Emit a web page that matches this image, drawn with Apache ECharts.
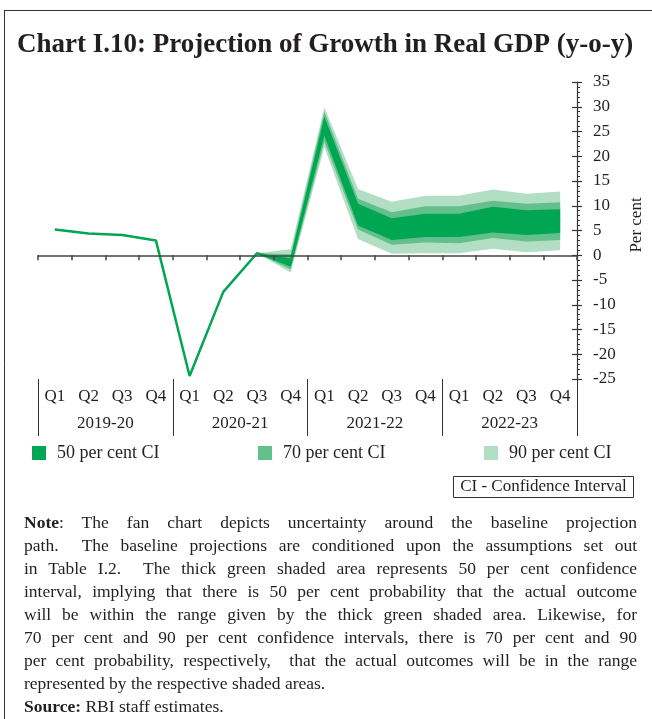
<!DOCTYPE html>
<html>
<head>
<meta charset="utf-8">
<script src="https://cdn.jsdelivr.net/npm/echarts@6/dist/echarts.min.js"></script>
<style>
  html, body { margin: 0; padding: 0; background: #fff; }
  #wrap { position: relative; width: 652px; height: 719px; overflow: hidden; }
  #chart { position: absolute; left: 0; top: 0; width: 652px; height: 719px; }
  #note {
    position: absolute; left: 24px; top: 511px; width: 613px;
    font-family: "Liberation Serif", serif; font-size: 17.5px; line-height: 23px; color: #231f20;
  }
  #note .j { text-align: justify; text-align-last: justify; white-space: nowrap; }
  #note .l { text-align: left; white-space: nowrap; }
</style>
</head>
<body>
<div id="wrap">
  <div id="chart"></div>
  <div id="note">
    <div class="j"><b>Note</b>: The fan chart depicts uncertainty around the baseline projection</div>
    <div class="j">path. &nbsp;The baseline projections are conditioned upon the assumptions set out</div>
    <div class="j">in Table I.2. &nbsp;The thick green shaded area represents 50 per cent confidence</div>
    <div class="j">interval, implying that there is 50 per cent probability that the actual outcome</div>
    <div class="j">will be within the range given by the thick green shaded area. Likewise, for</div>
    <div class="j">70 per cent and 90 per cent confidence intervals, there is 70 per cent and 90</div>
    <div class="j">per cent probability, respectively, &nbsp;that the actual outcomes will be in the range</div>
    <div class="l">represented by the respective shaded areas.</div>
    <div class="l"><b>Source:</b> RBI staff estimates.</div>
  </div>
</div>
<script>
// Quarters and fiscal years on the category axis
const quarters = ['Q1','Q2','Q3','Q4','Q1','Q2','Q3','Q4','Q1','Q2','Q3','Q4','Q1','Q2','Q3','Q4'];
const fiscalYears = ['2019-20', '2020-21', '2021-22', '2022-23'];

// Real GDP growth (y-o-y, per cent): actuals, then the baseline projection
const gdpGrowth = [5.2, 4.4, 4.1, 3.0, -24.4, -7.4, 0.4, -1.5, 26.2, 8.3, 5.4, 6.2, 6.1, 7.2, 6.6, 6.9];

// Fan bands; null where no band is drawn (the fan opens at Q3 2020-21)
const ci90Low  = [null, null, null, null, null, null, 0.4, -3.5, 21.8, 3.3, 0.3, 0.4, 0.4, 1.3, 0.6, 1.0];
const ci90High = [null, null, null, null, null, null, 0.4,  1.2, 29.9, 13.4, 10.8, 12.0, 12.0, 13.3, 12.4, 12.9];
const ci70Low  = [null, null, null, null, null, null, 0.4, -2.9, 23.0, 5.2, 2.1, 2.6, 2.4, 3.5, 2.8, 3.1];
const ci70High = [null, null, null, null, null, null, 0.4,  0.2, 29.0, 11.4, 8.7, 9.9, 9.9, 11.0, 10.4, 10.7];
const ci50Low  = [null, null, null, null, null, null, 0.4, -2.3, 24.2, 6.0, 3.1, 3.7, 3.7, 4.6, 4.1, 4.5];
const ci50High = [null, null, null, null, null, null, 0.4, -0.6, 28.0, 10.4, 7.5, 8.4, 8.4, 9.8, 9.1, 9.3];

const C50 = '#00a651', C70 = '#63c08c', C90 = '#b2dfc3';
const FONT = '"Liberation Serif", serif';
const INK = '#231f20';

function bandSeries(name, low, high, color) {
  return {
    name: name,
    type: 'custom',
    xAxisIndex: 0, yAxisIndex: 0,
    itemStyle: { color: color },
    data: [[6, 0]],
    z: 2,
    renderItem: function (params, api) {
      const upper = [], lower = [];
      for (let i = 0; i < low.length; i++) {
        if (low[i] === null) continue;
        upper.push(api.coord([i, high[i]]));
        lower.push(api.coord([i, low[i]]));
      }
      return {
        type: 'polygon',
        shape: { points: upper.concat(lower.reverse()) },
        style: { fill: color, stroke: null }
      };
    }
  };
}

function legendAt(left, name) {
  return {
    left: left, top: 444, padding: 0, itemWidth: 14, itemHeight: 14,
    selectedMode: false, icon: 'rect',
    data: [name],
    textStyle: { fontFamily: FONT, fontSize: 18, color: INK, padding: [0, 0, 0, 6] }
  };
}

const chart = echarts.init(document.getElementById('chart'), null, { renderer: 'canvas' });
chart.setOption({
  animation: false,
  backgroundColor: '#fff',
  grid: { left: 38, right: 75, top: 82, bottom: 340 },
  legend: [
    legendAt(32, '50 per cent CI'),
    legendAt(258, '70 per cent CI'),
    legendAt(484, '90 per cent CI')
  ],
  xAxis: [
    {
      type: 'category', data: quarters, boundaryGap: true, z: 5,
      axisLine: { onZero: true, lineStyle: { color: '#444', width: 1.5 } },
      axisTick: { show: true, length: 5, lineStyle: { color: '#444', width: 1.5 } },
      axisLabel: { show: false }
    },
    {
      type: 'category', data: quarters, boundaryGap: true, position: 'bottom',
      axisLine: { show: false, onZero: false }, axisTick: { show: false },
      axisLabel: { margin: 9, fontFamily: FONT, fontSize: 17, color: INK }
    },
    {
      type: 'category', data: fiscalYears, boundaryGap: true, position: 'bottom',
      axisLine: { show: false, onZero: false },
      axisTick: { show: true, length: 57, lineStyle: { color: '#333', width: 1 } },
      axisLabel: { margin: 36, fontFamily: FONT, fontSize: 17, color: INK }
    }
  ],
  yAxis: [
    {
      type: 'value', position: 'right', min: -25, max: 35, interval: 5,
      axisLine: { show: true, lineStyle: { color: '#333', width: 1.2 } },
      axisTick: { show: true, length: 5, lineStyle: { color: '#333', width: 1.2 } },
      minorTick: { show: true, splitNumber: 5, length: 3, lineStyle: { color: '#333', width: 1 } },
      splitLine: { show: false },
      axisLabel: { margin: 16, fontFamily: FONT, fontSize: 17, color: INK }
    },
    {
      type: 'value', position: 'right', min: -25, max: 35, interval: 5,
      axisLine: { show: false },
      axisTick: { show: true, inside: true, length: 5, lineStyle: { color: '#333', width: 1.2 } },
      splitLine: { show: false },
      axisLabel: { show: false }
    }
  ],
  series: [
    bandSeries('90 per cent CI', ci90Low, ci90High, C90),
    bandSeries('70 per cent CI', ci70Low, ci70High, C70),
    bandSeries('50 per cent CI', ci50Low, ci50High, C50),
    {
      name: 'Real GDP growth', type: 'line', data: gdpGrowth, z: 4,
      showSymbol: false, symbol: 'none',
      lineStyle: { color: C50, width: 2.5 },
      itemStyle: { color: C50 }
    }
  ],
  graphic: [
    { type: 'line', shape: { x1: 4, y1: 10.5, x2: 652, y2: 10.5 }, style: { stroke: '#333', lineWidth: 1 } },
    { type: 'line', shape: { x1: 4.5, y1: 10, x2: 4.5, y2: 719 }, style: { stroke: '#333', lineWidth: 1 } },
    {
      type: 'text', left: 17, top: 32,
      style: { text: 'Chart I.10: Projection of Growth in Real GDP (y-o-y)', font: 'bold 27px ' + FONT, fill: INK }
    },
    {
      type: 'text', x: 637, y: 225, rotation: Math.PI / 2,
      style: { text: 'Per cent', font: '17px ' + FONT, fill: INK, align: 'center', verticalAlign: 'middle' }
    },
    { type: 'rect', shape: { x: 453.5, y: 476.5, width: 180, height: 21 }, style: { fill: '#fff', stroke: '#333', lineWidth: 1 } },
    {
      type: 'text', x: 543.5, y: 487,
      style: { text: 'CI - Confidence Interval', font: '17px ' + FONT, fill: INK, align: 'center', verticalAlign: 'middle' }
    }
  ]
});
</script>
</body>
</html>
